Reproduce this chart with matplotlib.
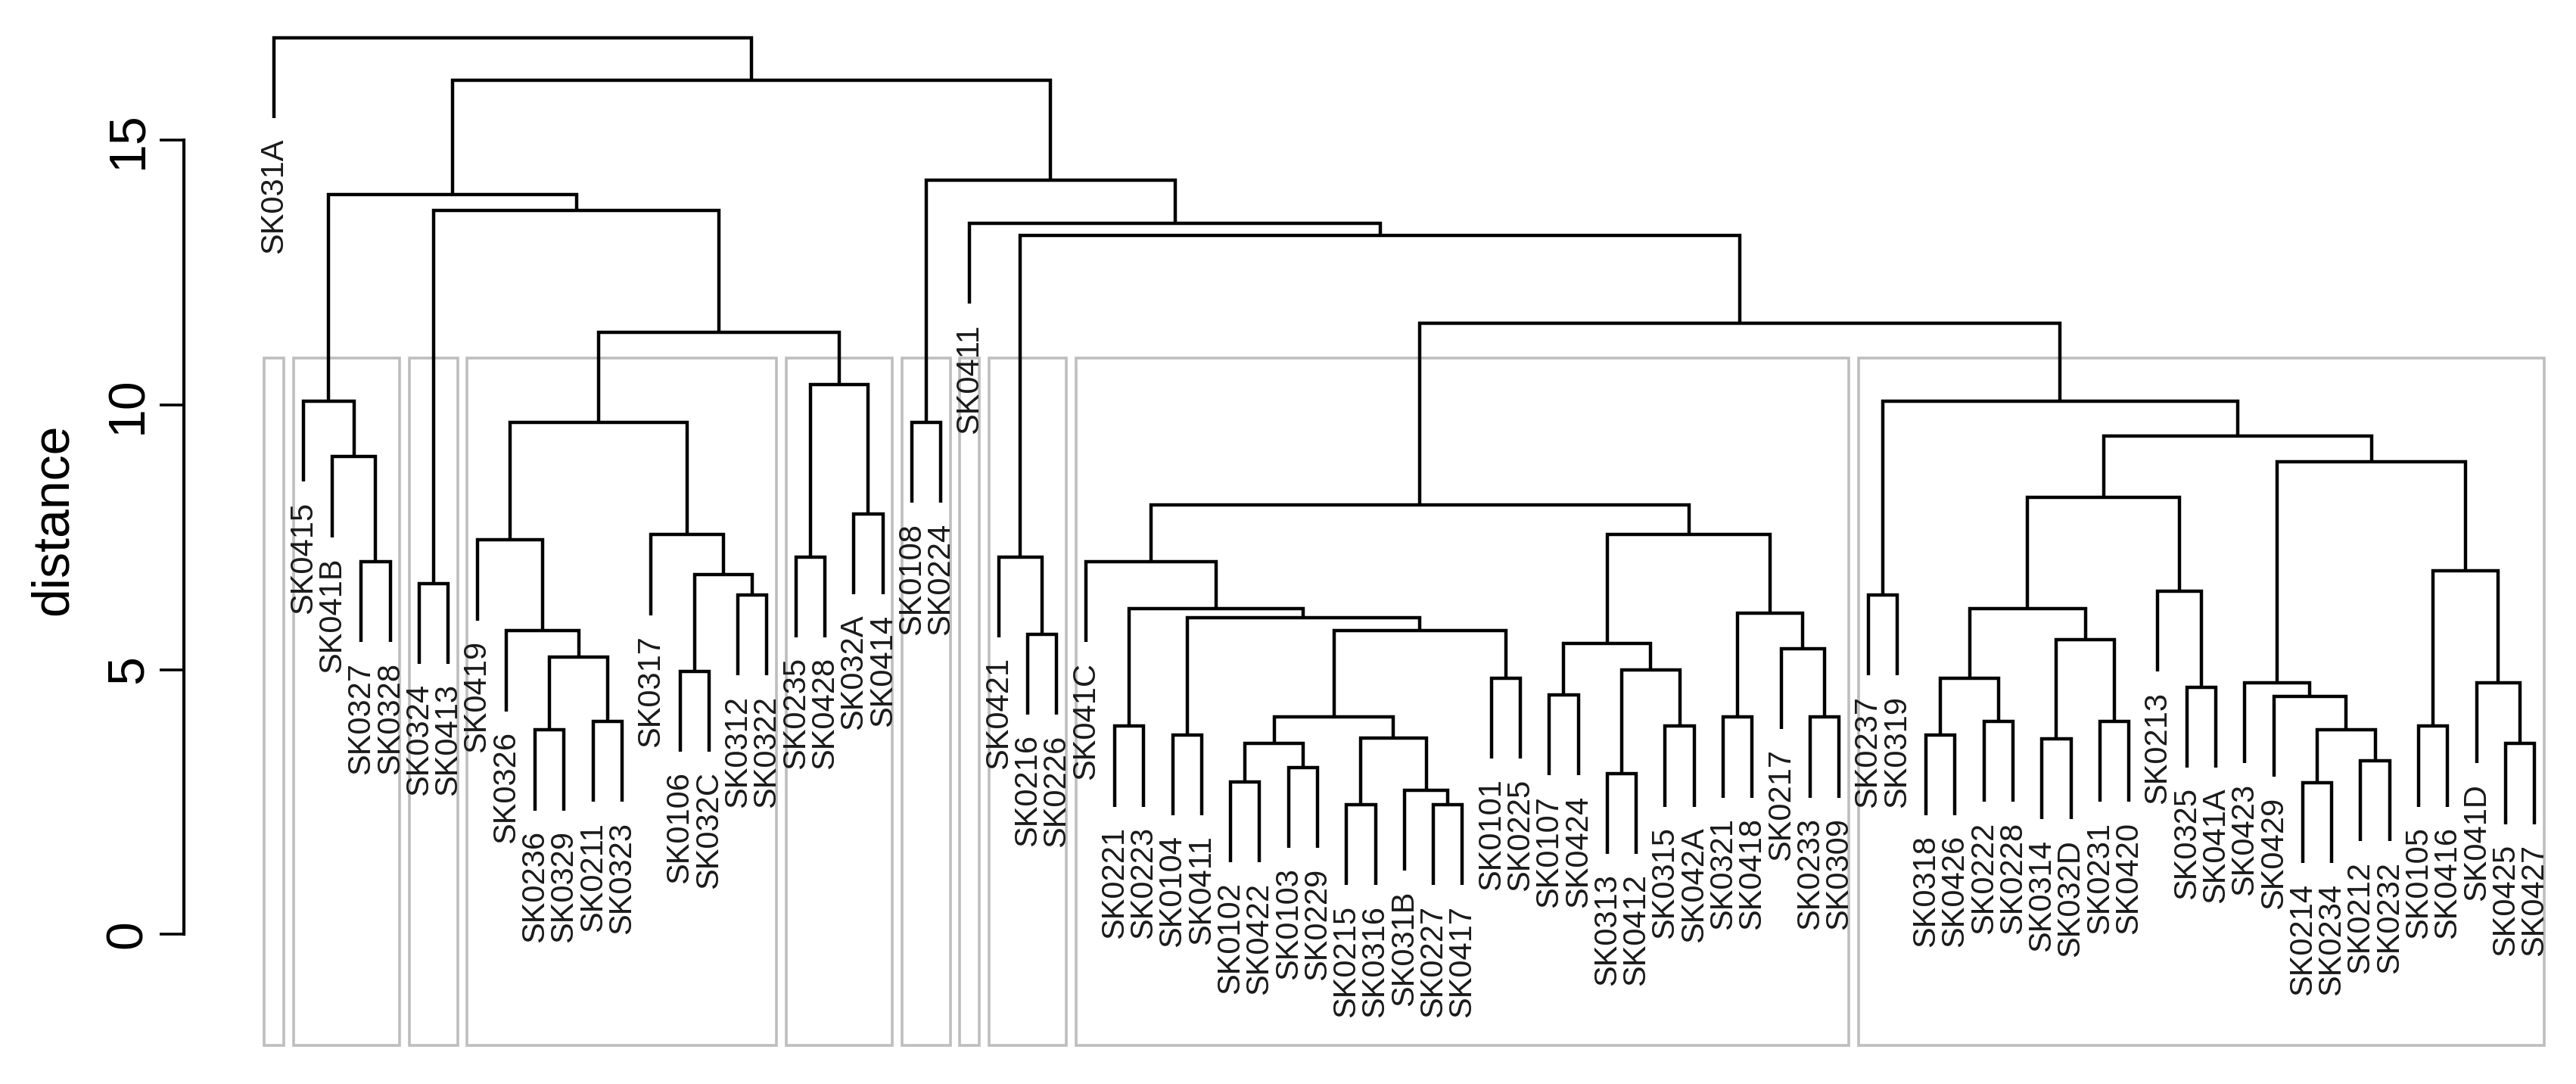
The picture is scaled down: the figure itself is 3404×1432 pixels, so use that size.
import matplotlib.pyplot as plt
from matplotlib.patches import Rectangle

plt.rcParams['font.family'] = ['Liberation Sans', 'DejaVu Sans']

# ---- leaf labels, left to right ----
leaf_labels = [
    'SK031A',
    'SK0415', 'SK041B', 'SK0327', 'SK0328',
    'SK0324', 'SK0413',
    'SK0419', 'SK0326', 'SK0236', 'SK0329', 'SK0211', 'SK0323', 'SK0317',
    'SK0106', 'SK032C', 'SK0312', 'SK0322',
    'SK0235', 'SK0428', 'SK032A', 'SK0414',
    'SK0108', 'SK0224',
    'SK0411',
    'SK0421', 'SK0216', 'SK0226',
    'SK041C', 'SK0221', 'SK0223', 'SK0104', 'SK0411', 'SK0102', 'SK0422',
    'SK0103', 'SK0229', 'SK0215', 'SK0316', 'SK031B', 'SK0227', 'SK0417',
    'SK0101', 'SK0225', 'SK0107', 'SK0424', 'SK0313', 'SK0412', 'SK0315',
    'SK042A', 'SK0321', 'SK0418', 'SK0217', 'SK0233', 'SK0309',
    'SK0237', 'SK0319', 'SK0318', 'SK0426', 'SK0222', 'SK0228', 'SK0314',
    'SK032D', 'SK0231', 'SK0420', 'SK0213', 'SK0325', 'SK041A', 'SK0423',
    'SK0429', 'SK0214', 'SK0234', 'SK0212', 'SK0232', 'SK0105', 'SK0416',
    'SK041D', 'SK0425', 'SK0427',
]

# ---- merges: (height, left, right); ints are leaf indices ----
grp_b = (10.07, 1, (9.02, 2, (7.04, 3, 4)))
grp_c = (6.63, 5, 6)
grp_d = (9.67,
         (7.45, 7, (5.73, 8, (5.23, (3.86, 9, 10), (4.02, 11, 12)))),
         (7.55, 13, (6.80, (4.97, 14, 15), (6.41, 16, 17))))
grp_e = (10.39, (7.13, 18, 19), (7.94, 20, 21))
grp_f = (9.67, 22, 23)
grp_h = (7.13, 25, (5.67, 26, 27))
grp_i = (8.11,
         (7.04, 28,
          (6.15, (3.93, 29, 30),
           (5.98, (3.77, 31, 32),
            (5.73,
             (4.10, (3.60, (2.88, 33, 34), (3.15, 35, 36)),
              (3.71, (2.45, 37, 38), (2.72, 39, (2.45, 40, 41)))),
             (4.84, 42, 43))))),
         (7.55,
          (5.50, (4.52, 44, 45), (5.00, (3.04, 46, 47), (3.93, 48, 49))),
          (6.06, (4.10, 50, 51), (5.40, 52, (4.10, 53, 54)))))
grp_j = (10.07,
         (6.41, 55, 56),
         (9.41,
          (8.26,
           (6.15, (4.84, (3.77, 57, 58), (4.02, 59, 60)),
            (5.56, (3.69, 61, 62), (4.02, 63, 64))),
           (6.48, 65, (4.67, 66, 67))),
          (8.93,
           (4.75, 68, (4.49, 69, (3.86, (2.86, 70, 71), (3.28, 72, 73)))),
           (6.87, (3.93, 74, 75), (4.75, 76, (3.60, 77, 78))))))

left_tree = (13.98, grp_b, (13.68, grp_c, (11.37, grp_d, grp_e)))
right_tree = (14.24, grp_f, (13.43, 24, (13.20, grp_h, (11.54, grp_i, grp_j))))
tree = (16.94, 0, (16.14, left_tree, right_tree))

hang = 1.52

# rect.hclust groups: first and last leaf (1-based)
groups = [(1, 1), (2, 5), (6, 7), (8, 18), (19, 22), (23, 24), (25, 25),
          (26, 28), (29, 55), (56, 79)]

# ---- figure ----
W, H = 3404, 1432
fig = plt.figure(figsize=(W / 100, H / 100), dpi=100)
ax = fig.add_axes([243 / W, 1 - 1381 / H, 1 - 243 / W, 1381 / H])
ax.set_xlim(-2.12, 80.43)
ax.set_ylim(-2.10, 17.65)

heights = []


def draw(node, parent_h):
    if isinstance(node, int):
        x = node + 1
        y = parent_h - hang
        ax.annotate(leaf_labels[node], (x, y), xytext=(0, -19),
                    textcoords='offset points', rotation=90, ha='center',
                    va='top', fontsize=30, color='#1a1a1a')
        return x, y
    h, left, right = node
    heights.append(h)
    xl, yl = draw(left, h)
    xr, yr = draw(right, h)
    ax.plot([xl, xl, xr, xr], [yl, h, h, yr], color='black', lw=3.2,
            solid_joinstyle='miter', solid_capstyle='butt')
    return (xl + xr) / 2, h


draw(tree, None)

# cut height between the 9th and 10th highest merges (10 groups)
hs = sorted(heights, reverse=True)
k = len(groups)
cut = (hs[k - 2] + hs[k - 1]) / 2
ybot = ax.get_ylim()[0]
for first, last in groups:
    ax.add_patch(Rectangle((first - 0.34, ybot), (last + 0.33) - (first - 0.34),
                           cut - ybot, fill=False, edgecolor='#bebebe',
                           lw=2.6, clip_on=False, joinstyle='miter'))

# ---- axis ----
for s in ['top', 'right', 'bottom']:
    ax.spines[s].set_visible(False)
ax.spines['left'].set_bounds(0, 15)
ax.spines['left'].set_linewidth(3.0)
ax.set_xticks([])
ax.set_yticks([0, 5, 10, 15])
ax.tick_params(axis='y', length=23, width=2.6, labelsize=49, pad=7)
for lbl in ax.get_yticklabels():
    lbl.set_rotation(90)
    lbl.set_va('center')

fig.text(71 / W, 1 - 686 / H, 'distance', rotation=90, ha='center',
         va='center', fontsize=49)

fig.savefig('out.png', dpi=100)
